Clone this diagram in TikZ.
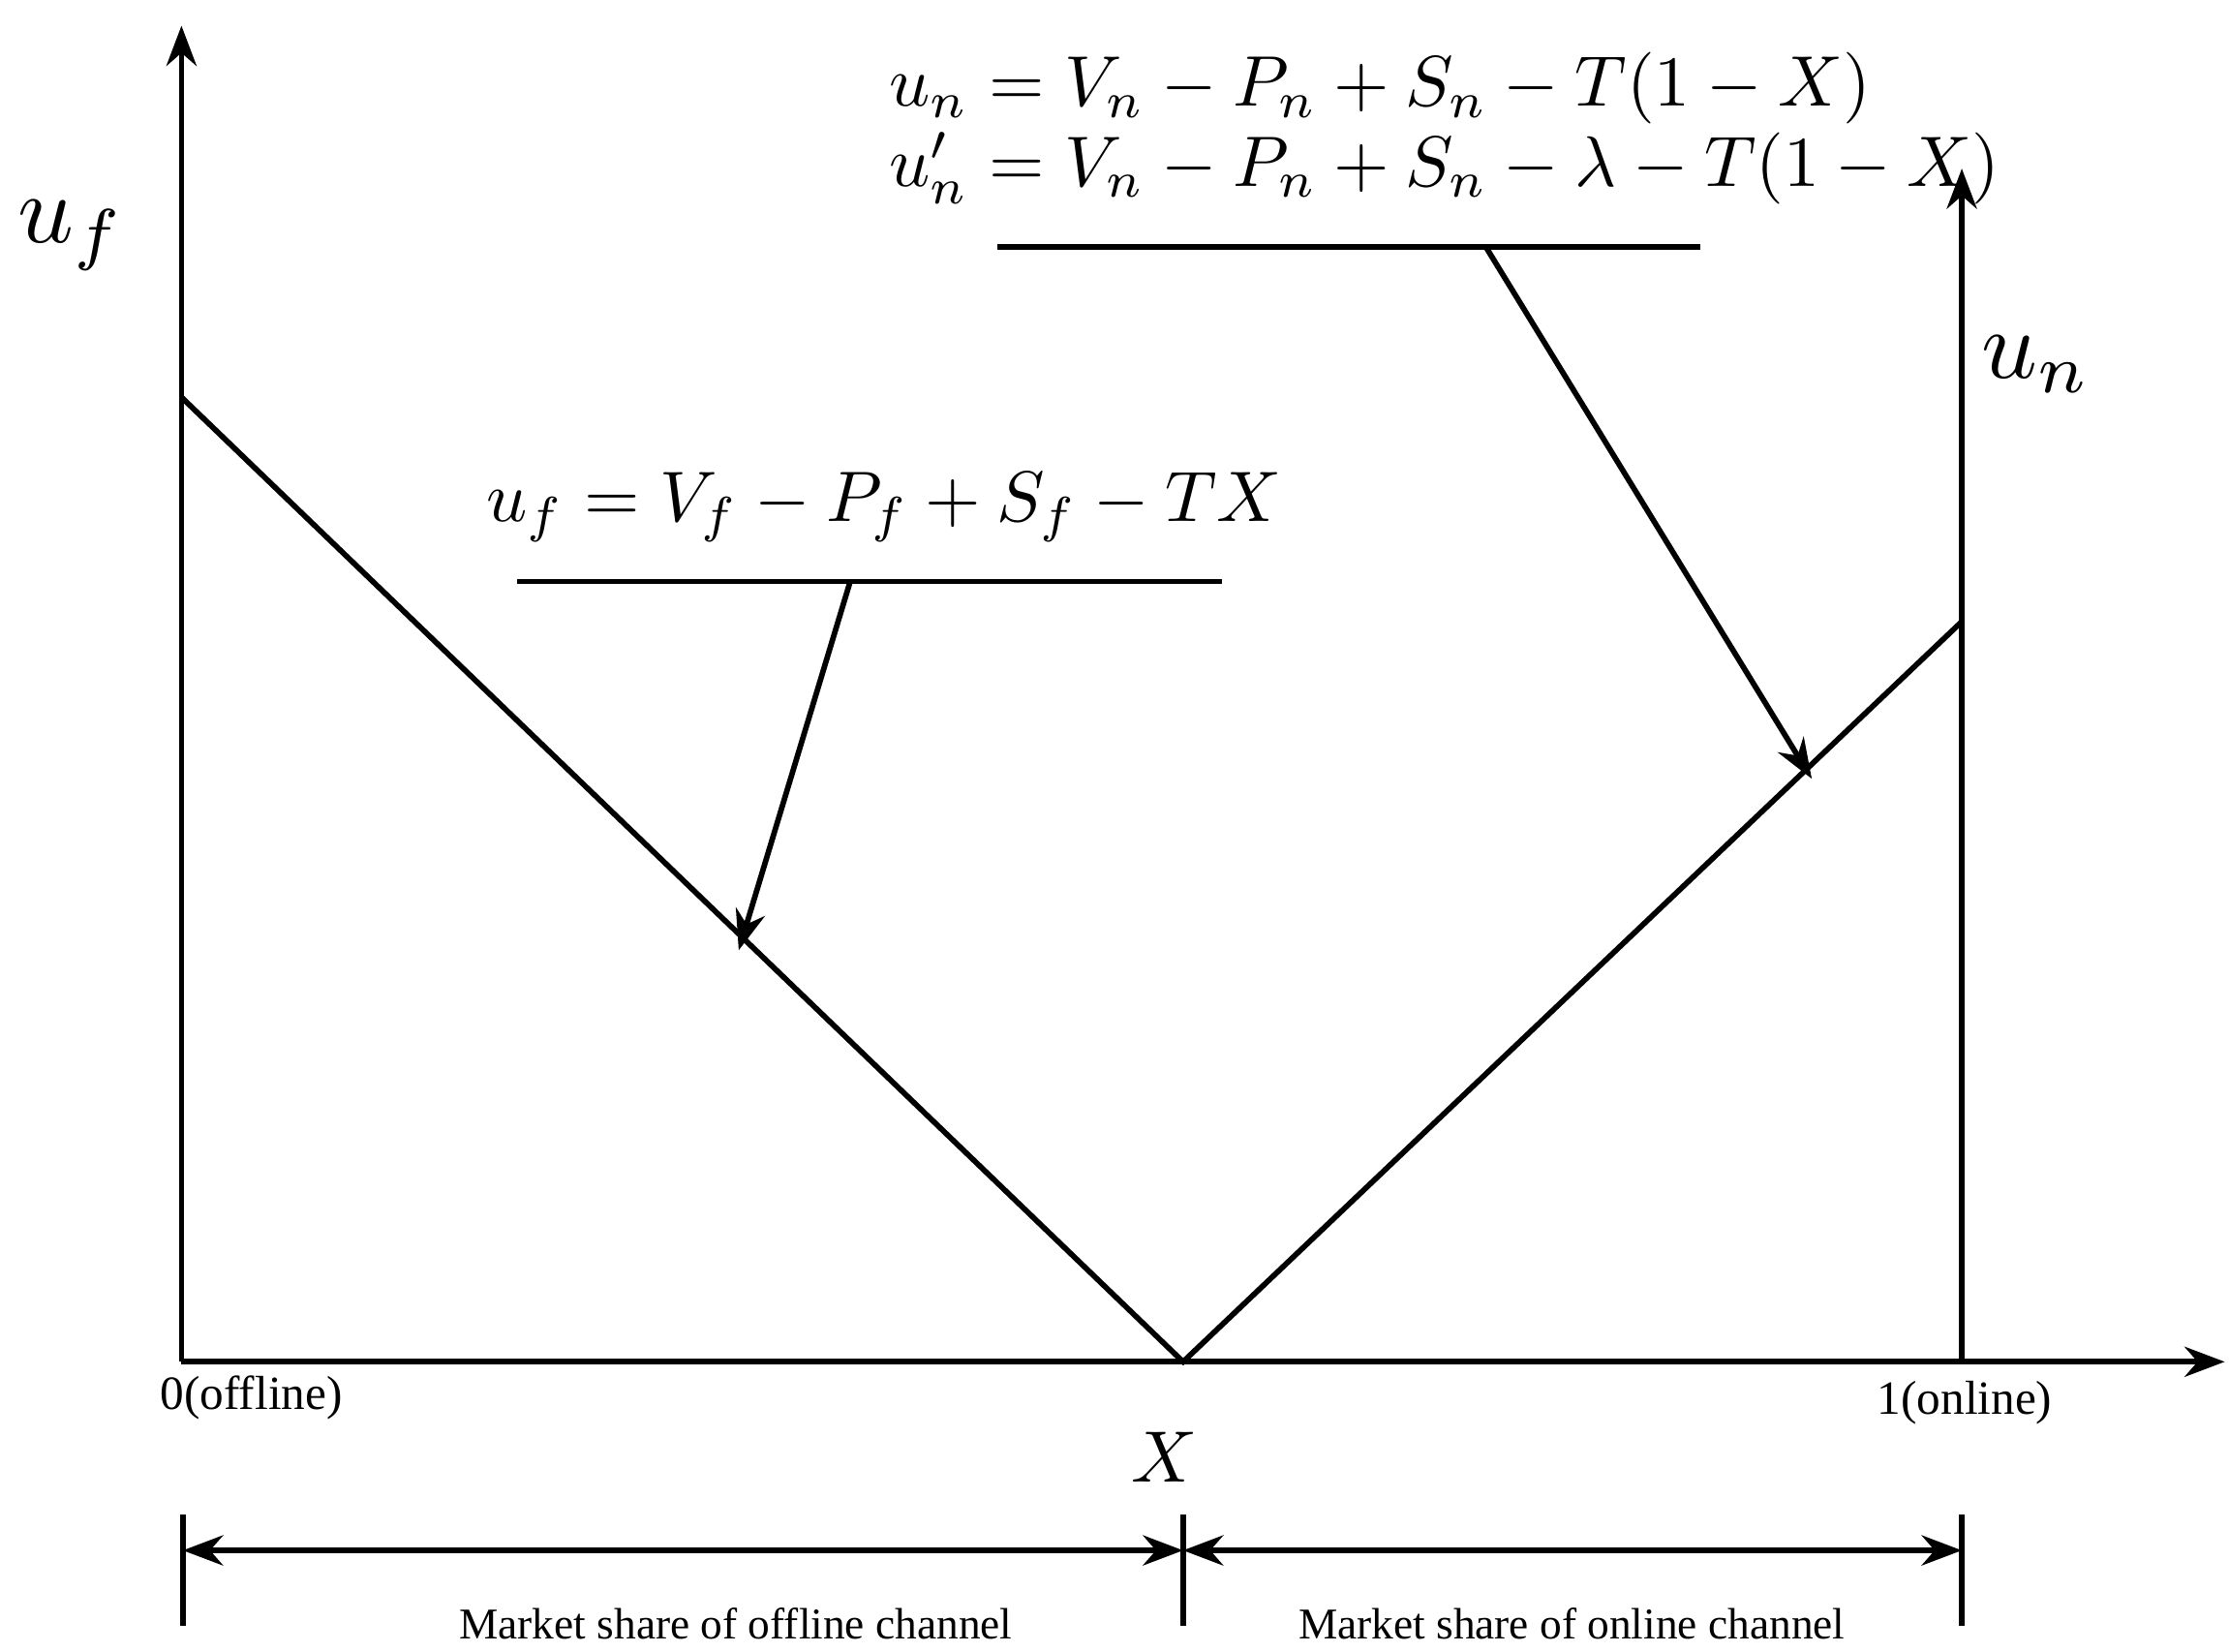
\documentclass[tikz,border=0pt]{standalone}
\usepackage{fontspec}
\setmainfont{Liberation Serif}
\usetikzlibrary{arrows.meta}
\begin{document}
\begin{tikzpicture}[x=0.02cm,y=-0.02cm,
  ln/.style={line width=2.2pt},
  arr/.style={ln,-{Stealth[length=16pt,width=12pt]}},
  dbl/.style={ln,{Stealth[length=16pt,width=12pt]}-{Stealth[length=16pt,width=12pt]}},
  eq/.style={inner sep=0pt},
  sm/.style={font=\fontsize{17.5}{20}\selectfont,inner sep=0pt}]
\useasboundingbox (0,0) rectangle (1560,1156);
\coordinate (O) at (127,953);
\coordinate (L) at (127,278);
\coordinate (M) at (828,953);
\coordinate (R) at (1373,435);
\draw[arr] (O) -- (127,18);
\draw[arr] (O) -- (1557,953);
\draw[arr] (1373,953) -- (1373,118);
\draw[ln] (L) -- (M) -- (R);
% equations
\node[eq,anchor=west] (e1) at (622,62) {\scalebox{2.85}{$u_n = V_n - P_n + S_n - T(1-X)$}};
\node[eq,anchor=west] (e2) at (622,118) {\scalebox{2.85}{$u_n' = V_n - P_n + S_n - \lambda - T(1-X)$}};
\coordinate (a1) at (698,173); \coordinate (b1) at (1190,173);
\draw[ln] (a1) -- (b1);
\coordinate (s1) at (1040,173); \coordinate (t1) at (1268,545);
\draw[arr] (s1) -- (t1);
\node[eq,anchor=west] (e3) at (340,355) {\scalebox{2.85}{$u_f = V_f - P_f + S_f - TX$}};
\coordinate (a2) at (362,407); \coordinate (b2) at (855,407);
\draw[ln] (a2) -- (b2);
\coordinate (s2) at (595,407); \coordinate (t2) at (517,665);
\draw[arr] (s2) -- (t2);
% axis labels
\node (uf) at (50,165) {\scalebox{3.9}{$u_f$}};
\node (un) at (1425,255) {\scalebox{3.9}{$u_n$}};
\node[font=\fontsize{19}{22}\selectfont] (zero) at (176,978) {0(offline)};
\node[font=\fontsize{19}{22}\selectfont] (one) at (1375,982) {1(online)};
\node (X) at (815,1020) {\scalebox{2.9}{$X$}};
% bottom
\draw[ln] (128,1060) -- (128,1138);
\draw[ln] (828,1060) -- (828,1138);
\draw[ln] (1373,1060) -- (1373,1138);
\coordinate (p1) at (128,1085); \coordinate (p2) at (828,1085); \coordinate (p3) at (1373,1085);
\draw[dbl] (p1) -- (p2);
\draw[dbl] (p2) -- (p3);
\node[sm] (t1l) at (515,1136) {Market share of offline channel};
\node[sm] (t2l) at (1100,1136) {Market share of online channel};
\end{tikzpicture}
\end{document}
